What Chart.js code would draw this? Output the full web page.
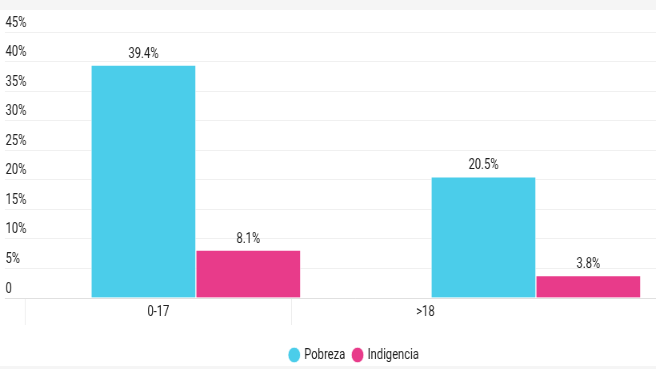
<!DOCTYPE html>
<html>
<head>
<meta charset="utf-8">
<script src="https://cdn.jsdelivr.net/npm/chart.js@4"></script>
<style>
  html, body { margin: 0; padding: 0; background: #f5f5f5; overflow: hidden; }
  #wrap { position: absolute; left: 0; top: 10px; width: 656px; height: 356px; background: #fff; overflow: hidden; }
  /* the chart is drawn wider and squeezed horizontally, like the original */
  #squeeze { width: 882px; height: 362px; transform: scaleX(0.8); transform-origin: 0 0; }
</style>
</head>
<body>
<div id="wrap"><div id="squeeze"><canvas id="barchart" width="882" height="362" style="width:882px;height:362px"></canvas></div></div>
<script>
// data
const categories = ["0-17", ">18"];
const pobreza = [39.4, 20.5];
const indigencia = [8.1, 3.8];
const yMax = 45;
const yStep = 5;

const FONT = "Roboto, 'Liberation Sans', sans-serif";
Chart.defaults.font.family = FONT;
Chart.defaults.color = '#222';

// value on top of each bar
const valueLabels = {
    id: 'valueLabels',
    afterDatasetsDraw(chart) {
        const ctx = chart.ctx;
        ctx.save();
        ctx.font = '14px ' + FONT;
        ctx.fillStyle = '#1e1e1e';
        ctx.textAlign = 'center';
        ctx.textBaseline = 'bottom';
        chart.data.datasets.forEach((ds, i) => {
            chart.getDatasetMeta(i).data.forEach((bar, j) => {
                ctx.fillText(ds.data[j].y.toFixed(1) + '%', bar.x, bar.y - 4);
            });
        });
        ctx.restore();
    }
};

const toPoints = arr => arr.map((v, i) => ({ x: i, y: v }));

// category boundaries (i) and centres (i + 0.5) on the label axis
const boundaryTicks = scale => { scale.ticks = categories.map((c, i) => ({ value: i })); };
const labelTicks = scale => { scale.ticks = categories.map((c, i) => ({ value: i + 0.5 })); };

const CHART = document.getElementById("barchart");

let barchart = new Chart(CHART, {
    type: 'bar',
    data: {
        datasets: [{
            label: "Pobreza",
            data: toPoints(pobreza),
            backgroundColor: "#4bcdea",
            xAxisID: 'xBars'
        }, {
            label: "Indigencia",
            data: toPoints(indigencia),
            backgroundColor: "#e83b8a",
            xAxisID: 'xBars'
        }]
    },
    options: {
        responsive: false,
        animation: false,
        layout: { padding: { left: 4, right: 0, top: 22, bottom: 0 } },
        datasets: {
            bar: { barThickness: 131, borderWidth: 1, borderColor: 'rgba(255,255,255,0.7)', borderSkipped: 'start' }
        },
        scales: {
            xBars: {
                type: 'linear', position: 'bottom', display: false,
                offset: false, grid: { offset: false },
                min: -0.562, max: 1.499
            },
            x: {
                type: 'linear',
                position: 'bottom',
                offset: false,
                min: -0.075,
                max: 2.549,
                afterBuildTicks: labelTicks,
                afterFit: scale => { scale.height = 40; },
                grid: { display: false, drawTicks: false, offset: false },
                border: { display: true, color: '#e0e0e0' },
                ticks: {
                    padding: 6,
                    autoSkip: false,
                    maxRotation: 0,
                    color: '#222',
                    font: { size: 14 },
                    callback: v => categories[Math.floor(v)]
                }
            },
            xGrid: {
                type: 'linear',
                position: { y: 0 },
                offset: false,
                min: -0.075,
                max: 2.549,
                afterBuildTicks: boundaryTicks,
                grid: { drawOnChartArea: false, tickLength: 27, color: '#ececec', offset: false },
                border: { display: false },
                ticks: { display: false }
            },
            y: {
                min: 0,
                max: yMax,
                ticks: {
                    stepSize: yStep,
                    mirror: true,
                    labelOffset: -9,
                    padding: 1,
                    color: '#222',
                    font: { size: 14 },
                    callback: v => v === 0 ? '0' : v + '%'
                },
                grid: { drawTicks: false, color: '#f0f0f0' },
                border: { display: false }
            }
        },
        plugins: {
            legend: {
                position: 'bottom',
                labels: {
                    usePointStyle: true,
                    pointStyle: 'circle',
                    boxWidth: 11,
                    boxHeight: 11,
                    padding: 10,
                    color: '#1e1e1e',
                    font: { size: 14 }
                }
            },
            tooltip: { enabled: false }
        }
    },
    plugins: [valueLabels]
});
</script>
</body>
</html>
